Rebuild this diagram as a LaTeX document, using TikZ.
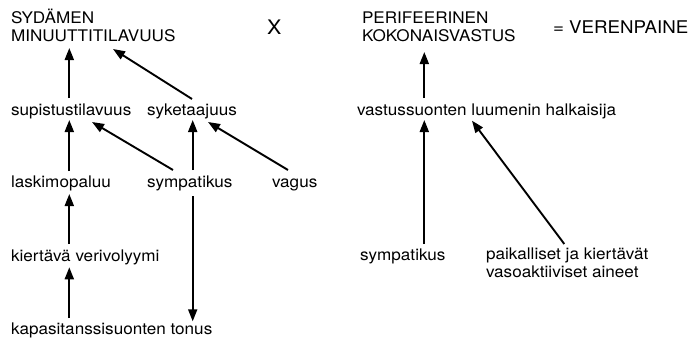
\documentclass[tikz,border=0pt]{standalone}
\usepackage{fontspec}
\setmainfont{TeX Gyre Heros}[FakeStretch=1.07]
\usetikzlibrary{arrows.meta,calc}
\tikzset{
  lbl/.style={inner sep=0pt, outer sep=0pt, font=\fontsize{16}{18}\selectfont, align=left},
  big/.style={inner sep=0pt, outer sep=0pt, font=\fontsize{20}{22}\selectfont},
  mid/.style={inner sep=0pt, outer sep=0pt, font=\fontsize{17.5}{20}\selectfont},
  arr/.style={line width=1.9pt, -{Triangle[length=12pt,width=9pt]}}
}
\begin{document}
\begin{tikzpicture}[x=1pt,y=-1pt]
\path[use as bounding box] (0,0) rectangle (692,337);
% titles
\node[lbl, anchor=south west] (smv) at (11,42) {SYDÄMEN\\MINUUTTITILAVUUS};
\node[big, anchor=base west] (x) at (267,35) {X};
\node[lbl, anchor=south west] (pk) at (362,42) {PERIFEERINEN\\KOKONAISVASTUS};
\node[mid, anchor=base west] (vp) at (553,34) {= VERENPAINE};
% left
\node[lbl, anchor=base west] (sup) at (11,115) {supistustilavuus};
\node[lbl, anchor=base west] (syk) at (147,115) {syketaajuus};
\node[lbl, anchor=base west] (lask) at (11,187.3) {laskimopaluu};
\node[lbl, anchor=base west] (syml) at (147,187.3) {sympatikus};
\node[lbl, anchor=base west] (vagus) at (272,187.3) {vagus};
\node[lbl, anchor=base west] (kier) at (11,261.3) {kiertävä verivolyymi};
\node[lbl, anchor=base west] (kap) at (11,334) {kapasitanssisuonten tonus};
% right
\node[lbl, anchor=base west] (vast) at (357,115) {vastussuonten luumenin halkaisija};
\node[lbl, anchor=base west] (symr) at (360,260.7) {sympatikus};
\node[lbl, anchor=south west] (paik) at (486,278) {paikalliset ja kiertävät\\vasoaktiiviset aineet};
% arrows left
\draw[arr] ($(sup.base west)+(58.3,-17)$) -- ($(smv.south west)+(58.3,6)$);
\draw[arr] ($(syk.base west)+(45,-16)$) -- ($(smv.south west)+(102,7)$);
\draw[arr] ($(lask.base west)+(58.3,-16.3)$) -- ($(sup.base west)+(58.3,5)$);
\draw[arr] ($(syml.base west)+(26,-17.3)$) -- ($(sup.base west)+(81,7)$);
\draw[arr] ($(syml.base west)+(45.7,-17.3)$) -- ($(syk.base west)+(45.7,5)$);
\draw[arr] ($(vagus.base west)+(16,-17.3)$) -- ($(syk.base west)+(61,7)$);
\draw[arr] ($(kier.base west)+(58.3,-17.3)$) -- ($(lask.base west)+(58.3,6.7)$);
\draw[arr] ($(kap.base west)+(58.3,-16)$) -- ($(kier.base west)+(58.3,6)$);
\draw[arr] ($(syml.base west)+(45.7,8.7)$) -- ($(kap.base west)+(181.7,-12.7)$);
% arrows right
\draw[arr] ($(vast.base west)+(67.3,-17)$) -- ($(pk.south west)+(62.3,10)$);
\draw[arr] ($(symr.base west)+(64.3,-16.7)$) -- ($(vast.base west)+(67.3,5)$);
\draw[arr] ($(paik.south west)+(78.3,-34)$) -- ($(vast.base west)+(115,5.7)$);
\end{tikzpicture}
\end{document}
